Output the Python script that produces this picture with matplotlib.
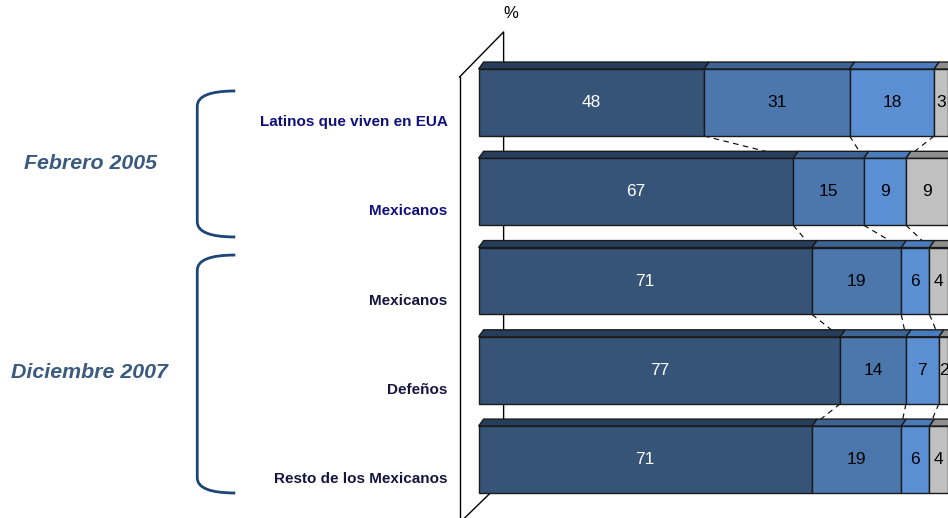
import numpy as np
import matplotlib.pyplot as plt
from matplotlib.patches import Polygon, PathPatch
from matplotlib.path import Path

plt.rcParams['font.family'] = ['Liberation Sans', 'DejaVu Sans']

# datos
filas = ['Latinos que viven en EUA', 'Mexicanos', 'Mexicanos', 'Defeños', 'Resto de los Mexicanos']
serie1 = [48, 67, 71, 77, 71]
serie2 = [31, 15, 19, 14, 19]
serie3 = [18, 9, 6, 7, 6]
serie4 = [3, 9, 4, 2, 4]
grupos = ['Febrero 2005', 'Diciembre 2007']
grupo_filas = [(0, 1), (2, 4)]

colores = ['#365478', '#4c77ac', '#5b8fd3', '#c0c0c0']
colores_techo = ['#263e5c', '#3c6394', '#4a7cbd', '#8e8e8e']
color_texto = ['white', 'black', 'black', 'black']
color_fila = ['#10107c', '#10107c', '#15153f', '#15153f', '#15153f']

fig = plt.figure(figsize=(9.48, 5.18), dpi=100)
ax = fig.add_axes([0, 0, 1, 1])
ax.set_xlim(-101.9, 99.95)
ax.set_ylim(4.655, -1.148)
ax.axis('off')

alto = 0.75
dx, dy = 1.07, 0.078   # profundidad 3D
y = np.arange(len(filas))
datos = np.array([serie1, serie2, serie3, serie4])
acum = np.vstack([np.zeros(len(filas)), np.cumsum(datos, axis=0)])

# pared del fondo
xb, xf = 5.33, -4.05
ax.plot([xf, xb, xb, xf], [-0.286, -0.79, 4.23, 4.71], color='black', lw=1, zorder=0)
ax.plot([xf, xf], [-0.286, 4.8], color='black', lw=1, zorder=0)
ax.text(xb + 1.5, -1.0, '%', ha='center', va='center', fontsize=12)

# barras
for k in range(4):
    ax.barh(y, datos[k], left=acum[k], height=alto, color=colores[k],
            edgecolor='#1a1a1a', linewidth=1, zorder=3)
    for i in range(len(filas)):
        a, b = acum[k][i], acum[k + 1][i]
        yt = y[i] - alto / 2
        ax.add_patch(Polygon([(a, yt), (a + dx, yt - dy), (b + dx, yt - dy), (b, yt)],
                             closed=True, facecolor=colores_techo[k], edgecolor='#1a1a1a',
                             lw=1, zorder=3))
        ax.text((a + b) / 2, y[i], str(datos[k][i]), ha='center', va='center',
                fontsize=12.5, color=color_texto[k], zorder=4)

# lineas de serie
for i in range(len(filas) - 1):
    for k in range(1, 4):
        ax.plot([acum[k][i], acum[k][i + 1]], [y[i] + alto / 2, y[i + 1] - alto / 2],
                color='black', lw=0.8, ls=(0, (5, 4)), zorder=2)

# etiquetas de filas
for i, f in enumerate(filas):
    ax.text(-6.6, y[i] + 0.22, f, ha='right', va='center', fontsize=11,
            fontweight='bold', color=color_fila[i])

# llaves y grupos
def llave(y0, y1, xv=-59.9, xt=-51.8, r=0.17):
    verts = [(xt, y0), (xv, y0), (xv, y0 + r), (xv, y1 - r), (xv, y1), (xt, y1)]
    codes = [Path.MOVETO, Path.CURVE3, Path.CURVE3, Path.LINETO, Path.CURVE3, Path.CURVE3]
    ax.add_patch(PathPatch(Path(verts, codes), facecolor='none', edgecolor='#1d4677', lw=2))

llave(-0.129, 1.507)
llave(1.709, 4.375)

ax.text(-82.7, 0.68, grupos[0], ha='center', va='center', fontsize=15.4,
        fontweight='bold', fontstyle='italic', color='#3b5a80')
ax.text(-82.9, 3.03, grupos[1], ha='center', va='center', fontsize=15.4,
        fontweight='bold', fontstyle='italic', color='#3b5a80')

fig.savefig('out.png', dpi=100)
